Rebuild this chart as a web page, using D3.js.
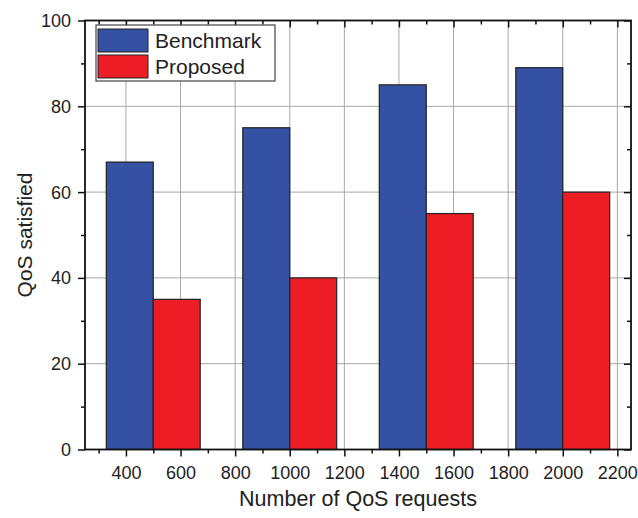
<!DOCTYPE html>
<html>
<head>
<meta charset="utf-8">
<script src="https://cdn.jsdelivr.net/npm/d3@7"></script>
<style>
  html, body { margin: 0; padding: 0; background: #fff; overflow: hidden; }
  svg { display: block; font-family: "Liberation Sans", Arial, sans-serif; }
</style>
</head>
<body>
<svg id="chart" width="638" height="518"></svg>
<script>
const requests = [500, 1000, 1500, 2000];
const benchmark = [67, 75, 85, 89];
const proposed = [35, 40, 55, 60];
const seriesNames = ["Benchmark", "Proposed"];
const xTicks = [400, 600, 800, 1000, 1200, 1400, 1600, 1800, 2000, 2200];
const yTicks = [0, 20, 40, 60, 80, 100];

const colors = { Benchmark: "#3451a3", Proposed: "#ec1d25" };

const svg = d3.select("#chart");
const width = 638, height = 518;
const margens = { left: 85, right: 7, top: 20.5, bottom: 68.5 };
const innerWidth = width - margens.left - margens.right;
const innerHeight = height - margens.top - margens.bottom;

const x = d3.scaleLinear().domain([250, 2250]).range([0, innerWidth]);
const y = d3.scaleLinear().domain([0, 100]).range([innerHeight, 0]);
const barWidth = 172; // in x units

const g = svg.append("g")
    .attr("transform", `translate(${margens.left}, ${margens.top})`);

// grid
g.append("g")
    .selectAll("line")
    .data(xTicks)
    .join("line")
    .attr("x1", d => x(d)).attr("x2", d => x(d))
    .attr("y1", 0).attr("y2", innerHeight)
    .attr("stroke", "#a8a8a8").attr("stroke-width", 1);

g.append("g")
    .selectAll("line")
    .data(yTicks.slice(1, -1))
    .join("line")
    .attr("x1", 0).attr("x2", innerWidth)
    .attr("y1", d => y(d)).attr("y2", d => y(d))
    .attr("stroke", "#a8a8a8").attr("stroke-width", 1);

// bars
const data = requests.map((r, i) => ({ r, Benchmark: benchmark[i], Proposed: proposed[i] }));
const bars = [];
data.forEach(d => {
    bars.push({ name: "Benchmark", x0: d.r - barWidth, x1: d.r, v: d.Benchmark });
    bars.push({ name: "Proposed", x0: d.r, x1: d.r + barWidth, v: d.Proposed });
});

g.append("g")
    .selectAll("rect")
    .data(bars)
    .join("rect")
    .attr("x", d => x(d.x0))
    .attr("width", d => x(d.x1) - x(d.x0))
    .attr("y", d => y(d.v))
    .attr("height", d => y(0) - y(d.v))
    .attr("fill", d => colors[d.name])
    .attr("stroke", "#222")
    .attr("stroke-width", 1.2);

// axes
const xMinor = d3.range(300, 2250, 200);
const yMinor = d3.range(10, 100, 20);

function styleAxis(sel) {
    sel.select(".domain").remove();
    sel.selectAll(".tick line").attr("stroke", "#111").attr("stroke-width", 1.5);
    sel.selectAll(".tick text").attr("fill", "#222").attr("font-size", "18px");
}

// tick marks only, no labels
function marksOnly(sel) {
    styleAxis(sel);
    sel.selectAll(".tick text").remove();
}

// bottom
g.append("g")
    .attr("transform", `translate(0, ${innerHeight})`)
    .call(d3.axisBottom(x).tickValues(xTicks).tickSize(7).tickFormat(d3.format("d")))
    .call(styleAxis)
    .call(a => a.selectAll(".tick text").attr("dy", null).attr("y", 29));
g.append("g")
    .attr("transform", `translate(0, ${innerHeight})`)
    .call(d3.axisBottom(x).tickValues(xMinor).tickSize(4))
    .call(marksOnly);

// top (inward)
g.append("g")
    .call(d3.axisBottom(x).tickValues(xTicks).tickSize(7))
    .call(marksOnly);
g.append("g")
    .call(d3.axisBottom(x).tickValues(xMinor).tickSize(4))
    .call(marksOnly);

// left
g.append("g")
    .call(d3.axisLeft(y).tickValues(yTicks).tickSize(7).tickPadding(7))
    .call(styleAxis)
    .call(a => a.selectAll(".tick text").attr("dy", null).attr("y", 6));
g.append("g")
    .call(d3.axisLeft(y).tickValues(yMinor).tickSize(4))
    .call(marksOnly);

// right (inward)
g.append("g")
    .attr("transform", `translate(${innerWidth}, 0)`)
    .call(d3.axisLeft(y).tickValues(yTicks).tickSize(7))
    .call(marksOnly);
g.append("g")
    .attr("transform", `translate(${innerWidth}, 0)`)
    .call(d3.axisLeft(y).tickValues(yMinor).tickSize(4))
    .call(marksOnly);

// frame
g.append("rect")
    .attr("x", 0).attr("y", 0)
    .attr("width", innerWidth).attr("height", innerHeight)
    .attr("fill", "none")
    .attr("stroke", "#111")
    .attr("stroke-width", 1.8);

// axis titles
svg.append("text")
    .attr("x", margens.left + innerWidth / 2)
    .attr("y", 506)
    .attr("text-anchor", "middle")
    .attr("font-size", "21.5px")
    .attr("fill", "#222")
    .text("Number of QoS requests");

svg.append("text")
    .attr("transform", `translate(32, ${margens.top + innerHeight / 2}) rotate(-90)`)
    .attr("text-anchor", "middle")
    .attr("font-size", "21px")
    .attr("fill", "#222")
    .text("QoS satisfied");

// legend
const legend = svg.append("g").attr("transform", "translate(96, 25)");
legend.append("rect")
    .attr("width", 179).attr("height", 56)
    .attr("fill", "#fff")
    .attr("stroke", "#444")
    .attr("stroke-width", 1.2);

const items = legend.selectAll(".item")
    .data(seriesNames)
    .join("g")
    .attr("class", "item")
    .attr("transform", (d, i) => `translate(2, ${4 + i * 26})`);

items.append("rect")
    .attr("width", 50).attr("height", 23)
    .attr("fill", d => colors[d])
    .attr("stroke", "#222")
    .attr("stroke-width", 1);

items.append("text")
    .attr("x", 57)
    .attr("y", 19)
    .attr("font-size", "21px")
    .attr("fill", "#222")
    .text(d => d);
</script>
</body>
</html>
